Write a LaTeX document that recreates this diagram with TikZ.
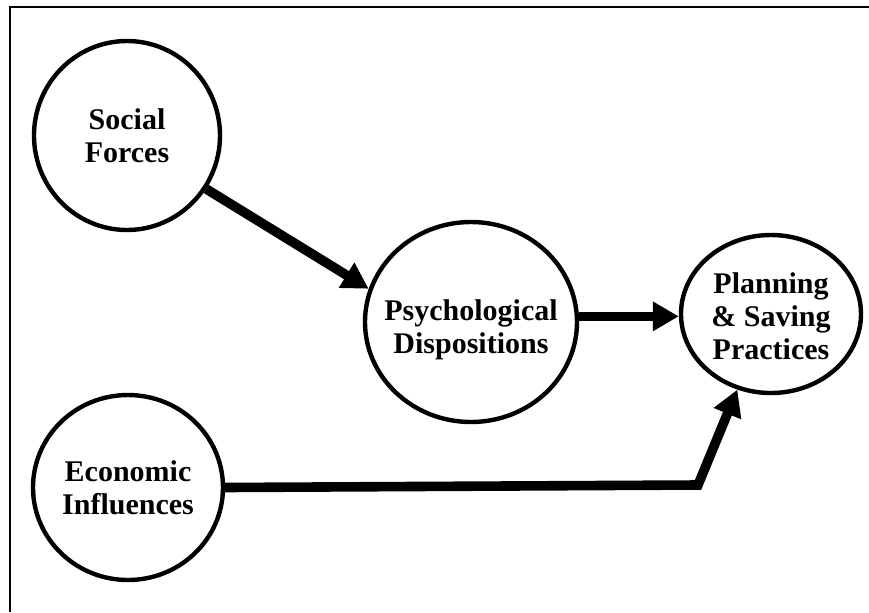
\documentclass[tikz,border=0pt]{standalone}
\usepackage{fontspec}
\setmainfont{Liberation Serif}
\usetikzlibrary{arrows.meta,shapes.geometric}

\begin{document}
\begin{tikzpicture}[x=0.5pt,y=-0.5pt,
 blob/.style={draw,ellipse,line width=2.2pt,inner sep=0pt},
 txt/.style={align=center,inner sep=0pt,font=\fontsize{15}{16.5}\selectfont\bfseries},
 arrow/.style={-{Triangle[length=13pt,width=14pt]},line width=4.8pt,line join=miter}]
\useasboundingbox (0,0) rectangle (869,612);
\draw[line width=1pt] (869,7) -- (10,7) -- (10,612);
\node[blob,minimum width=93pt,minimum height=94.5pt,
  label={[txt]center:Social\\Forces}] (social) at (127,135.5) {};
\node[blob,minimum width=106pt,minimum height=100pt,
  label={[txt,yshift=-4pt]center:Psychological\\Dispositions}] (psych) at (471,322) {};
\node[blob,minimum width=90pt,minimum height=79pt,
  label={[txt,yshift=-1pt]center:Planning\\\& Saving\\Practices}] (plan) at (771,314) {};
\node[blob,minimum width=95pt,minimum height=92.5pt,
  label={[txt]center:Economic\\Influences}] (econ) at (128,487.5) {};
\coordinate (bend) at (698,485);
\draw[arrow] (social.-34) -- (psych.162);
\draw[arrow] (psych.3) -- (psych.3 -| plan.west);
\draw[arrow] (econ.east) -- (bend) -- (plan.-114);
\end{tikzpicture}
\end{document}
